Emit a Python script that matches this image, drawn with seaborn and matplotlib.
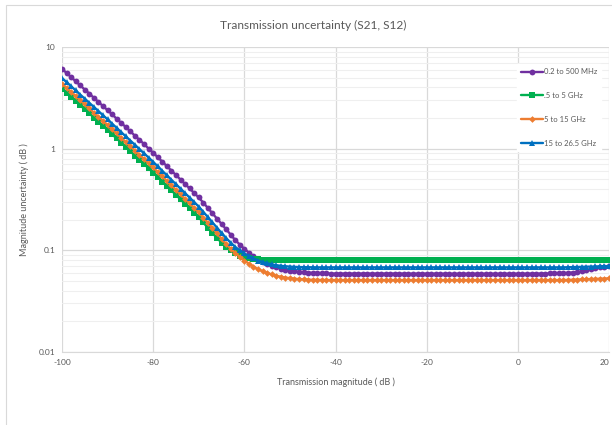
import matplotlib
matplotlib.use("Agg")
import matplotlib.pyplot as plt
import matplotlib.transforms as mtransforms
import seaborn as sns
import pandas as pd
from matplotlib.patches import Rectangle
from matplotlib.ticker import FixedLocator, NullFormatter

x_db = list(range(-100, 21))

series_names = ["0.2 to 500 MHz", ".5 to 5 GHz", "5 to 15 GHz", "15 to 26.5 GHz"]

purple_vals = [
    6.10, 5.55, 5.06, 4.60, 4.19, 3.81, 3.48, 3.16, 2.88, 2.62,
    2.39, 2.17, 1.97, 1.79, 1.63, 1.48, 1.34, 1.22, 1.11, 1.00,
    0.912, 0.824, 0.745, 0.673, 0.608, 0.550, 0.497, 0.449, 0.406, 0.366,
    0.331, 0.294, 0.261, 0.231, 0.205, 0.182, 0.161, 0.143, 0.126, 0.114,
    0.1035, 0.0948, 0.0871, 0.0822, 0.0776, 0.0741, 0.0708, 0.0684, 0.0661, 0.0646,
    0.0631, 0.0622, 0.0614, 0.0608, 0.0603, 0.0598, 0.0596, 0.0594, 0.0592, 0.0591,
    0.0590, 0.0590, 0.0590, 0.0590, 0.0590, 0.0590, 0.0590, 0.0590, 0.0590, 0.0590,
    0.0590, 0.0590, 0.0590, 0.0590, 0.0590, 0.0590, 0.0589, 0.0589, 0.0589, 0.0589,
    0.0589, 0.0589, 0.0589, 0.0588, 0.0588, 0.0588, 0.0588, 0.0588, 0.0588, 0.0588,
    0.0588, 0.0588, 0.0588, 0.0588, 0.0588, 0.0588, 0.0588, 0.0588, 0.0588, 0.0588,
    0.0588, 0.0588, 0.0589, 0.0590, 0.0590, 0.0590, 0.0591, 0.0592, 0.0593, 0.0594,
    0.0595, 0.0600, 0.0605, 0.0610, 0.0620, 0.0635, 0.0650, 0.0665, 0.0680, 0.0690,
    0.0700,
]

green_vals = [
    3.89, 3.54, 3.23, 2.94, 2.67, 2.43, 2.22, 2.02, 1.84, 1.67,
    1.52, 1.38, 1.26, 1.14, 1.04, 0.942, 0.855, 0.776, 0.706, 0.641,
    0.582, 0.526, 0.475, 0.430, 0.388, 0.351, 0.317, 0.286, 0.259, 0.234,
    0.211, 0.188, 0.166, 0.148, 0.132, 0.119, 0.108, 0.100, 0.0933, 0.0887,
    0.0855, 0.0836, 0.0822, 0.0815, 0.0809, 0.0805, 0.0803, 0.0802, 0.0801, 0.0800,
    0.0800, 0.0800, 0.0800, 0.0800, 0.0800, 0.0799, 0.0799, 0.0799, 0.0799, 0.0799,
    0.0798, 0.0798, 0.0798, 0.0798, 0.0798, 0.0798, 0.0798, 0.0798, 0.0798, 0.0798,
    0.0797, 0.0797, 0.0797, 0.0797, 0.0797, 0.0797, 0.0797, 0.0797, 0.0797, 0.0797,
    0.0797, 0.0797, 0.0797, 0.0797, 0.0797, 0.0797, 0.0797, 0.0797, 0.0797, 0.0797,
    0.0797, 0.0797, 0.0797, 0.0797, 0.0797, 0.0797, 0.0797, 0.0797, 0.0797, 0.0797,
    0.0798, 0.0798, 0.0798, 0.0798, 0.0798, 0.0799, 0.0799, 0.0799, 0.0800, 0.0800,
    0.0800, 0.0800, 0.0801, 0.0801, 0.0802, 0.0802, 0.0803, 0.0803, 0.0804, 0.0804,
    0.0805,
]

orange_vals = [
    4.37, 3.97, 3.62, 3.30, 3.00, 2.73, 2.49, 2.26, 2.06, 1.88,
    1.71, 1.55, 1.41, 1.28, 1.16, 1.06, 0.959, 0.871, 0.793, 0.719,
    0.653, 0.590, 0.533, 0.482, 0.436, 0.394, 0.356, 0.321, 0.290, 0.262,
    0.237, 0.210, 0.187, 0.166, 0.147, 0.130, 0.116, 0.104, 0.0944, 0.0861,
    0.0794, 0.0738, 0.0692, 0.0653, 0.0624, 0.0600, 0.0579, 0.0562, 0.0550, 0.0540,
    0.0532, 0.0526, 0.0521, 0.0518, 0.0515, 0.0513, 0.0512, 0.0511, 0.0510, 0.0510,
    0.0510, 0.0510, 0.0510, 0.0510, 0.0510, 0.0510, 0.0510, 0.0510, 0.0510, 0.0510,
    0.0510, 0.0510, 0.0510, 0.0510, 0.0510, 0.0510, 0.0510, 0.0510, 0.0510, 0.0510,
    0.0510, 0.0510, 0.0510, 0.0510, 0.0510, 0.0510, 0.0510, 0.0510, 0.0510, 0.0510,
    0.0510, 0.0510, 0.0510, 0.0510, 0.0510, 0.0510, 0.0510, 0.0510, 0.0510, 0.0510,
    0.0510, 0.0510, 0.0510, 0.0510, 0.0510, 0.0510, 0.0510, 0.0510, 0.0510, 0.0510,
    0.0510, 0.0512, 0.0514, 0.0516, 0.0518, 0.0520, 0.0522, 0.0524, 0.0526, 0.0528,
    0.0530,
]

blue_vals = [
    4.95, 4.51, 4.11, 3.74, 3.40, 3.10, 2.82, 2.57, 2.34, 2.13,
    1.94, 1.76, 1.60, 1.45, 1.32, 1.20, 1.09, 0.989, 0.899, 0.817,
    0.741, 0.670, 0.605, 0.547, 0.494, 0.447, 0.404, 0.365, 0.330, 0.298,
    0.269, 0.239, 0.212, 0.188, 0.167, 0.148, 0.132, 0.119, 0.108, 0.100,
    0.0933, 0.0877, 0.0832, 0.0794, 0.0766, 0.0745, 0.0728, 0.0714, 0.0705, 0.0697,
    0.0692, 0.0688, 0.0685, 0.0683, 0.0682, 0.0681, 0.0680, 0.0680, 0.0680, 0.0680,
    0.0680, 0.0680, 0.0680, 0.0680, 0.0680, 0.0680, 0.0680, 0.0680, 0.0680, 0.0680,
    0.0680, 0.0680, 0.0680, 0.0680, 0.0680, 0.0680, 0.0680, 0.0680, 0.0680, 0.0680,
    0.0680, 0.0680, 0.0680, 0.0680, 0.0680, 0.0680, 0.0680, 0.0680, 0.0680, 0.0680,
    0.0680, 0.0680, 0.0680, 0.0680, 0.0680, 0.0680, 0.0680, 0.0680, 0.0680, 0.0680,
    0.0680, 0.0680, 0.0680, 0.0680, 0.0680, 0.0680, 0.0680, 0.0680, 0.0680, 0.0680,
    0.0680, 0.0682, 0.0684, 0.0686, 0.0688, 0.0690, 0.0692, 0.0694, 0.0696, 0.0698,
    0.0700,
]

x_ticks = [-100, -80, -60, -40, -20, 0, 20]
y_ticks = [0.01, 0.1, 1, 10]
y_tick_labels = ["0.01", "0.1", "1", "10"]

colors = ["#7030A0", "#00B050", "#ED7D31", "#0070C0"]
markers = ["o", "s", "D", "^"]
msizes = [4.2, 4.0, 3.4, 4.6]

sns.set_style("white")
plt.rcParams["font.family"] = ["Lato", "DejaVu Sans"]

W, H = 612, 425
fig = plt.figure(figsize=(W / 100, H / 100), dpi=100)
ax = fig.add_axes([62 / W, 1 - 352 / H, (609 - 62) / W, (352 - 47) / H])

text_color = "#595959"
all_vals = [purple_vals, green_vals, orange_vals, blue_vals]
for name, vals, c, m, ms in zip(series_names, all_vals, colors, markers, msizes):
    df = pd.DataFrame({"x": x_db, "y": vals})
    sns.lineplot(data=df, x="x", y="y", ax=ax, color=c, marker=m,
                 markersize=ms, markeredgewidth=0, linewidth=1.7,
                 label=name, zorder=3)

ax.set_yscale("log")
ax.set_xlim(-100, 20)
ax.set_ylim(0.01, 10)
ax.set_xticks(x_ticks)
ax.set_xticklabels([str(v) for v in x_ticks])
ax.yaxis.set_major_locator(FixedLocator(y_ticks))
ax.set_yticklabels(y_tick_labels)
minor = [k * 10.0 ** e for e in (-2, -1, 0) for k in range(2, 10)]
ax.yaxis.set_minor_locator(FixedLocator(minor))
ax.yaxis.set_minor_formatter(NullFormatter())

ax.grid(True, which="major", color="#D9D9D9", linewidth=0.9, zorder=0)
ax.grid(True, which="minor", axis="y", color="#EFEFEF", linewidth=0.8, zorder=0)
ax.set_axisbelow(True)
for s in ["top", "right", "left"]:
    ax.spines[s].set_visible(False)
ax.spines["bottom"].set_color("#D9D9D9")
ax.tick_params(axis="both", which="both", length=0, colors=text_color,
               labelsize=6, pad=5)

# keep the last x tick label ("20") inside the picture edge
last_lbl = ax.get_xticklabels()[-1]
last_lbl.set_transform(last_lbl.get_transform() +
                       mtransforms.ScaledTranslation(-4 / 100, 0, fig.dpi_scale_trans))

ax.set_xlabel("Transmission magnitude ( dB )", fontsize=6.5, color=text_color, labelpad=8)
ax.set_ylabel("Magnitude uncertainty ( dB )", fontsize=6.5, color=text_color)
ax.yaxis.set_label_coords(-(62 - 29) / 547, 0.5)

leg = ax.legend(loc="upper left", bbox_to_anchor=((517 - 62) / 547, (352 - 64) / 305),
                fontsize=5.5, frameon=True, fancybox=False, edgecolor="white",
                facecolor="white", framealpha=1.0, handlelength=2.8,
                handletextpad=0.15, labelspacing=2.2, borderpad=0.55,
                borderaxespad=0.0)
for t in leg.get_texts():
    t.set_color(text_color)
leg.set_zorder(5)

fig.text(313 / W, 1 - 25 / H, "Transmission uncertainty (S21, S12)",
         ha="center", va="center", fontsize=8.6, color=text_color)

fig.patches.append(Rectangle((6 / W, -0.05), 1.2, 1 - 5 / H + 0.05,
                             transform=fig.transFigure, fill=False,
                             edgecolor="#D9D9D9", linewidth=0.8))

fig.savefig("out.png", dpi=100)
